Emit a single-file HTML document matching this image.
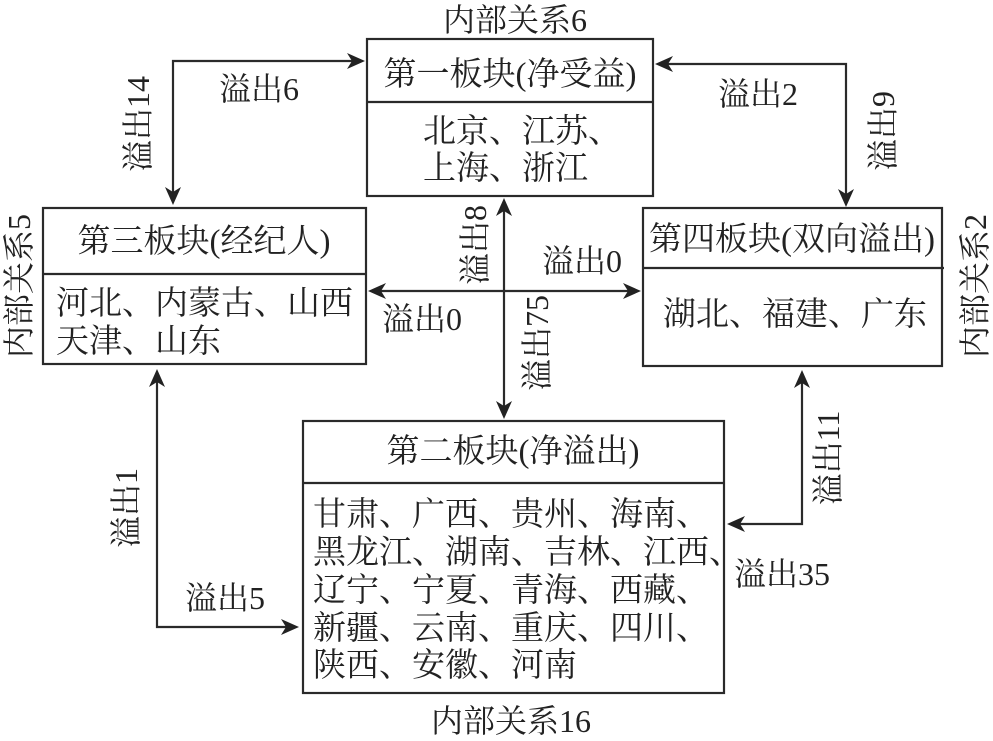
<!DOCTYPE html>
<html>
<head>
<meta charset="utf-8">
<style>
html,body{margin:0;padding:0;background:#fff;}
svg{display:block;}
svg text{font-family:"Liberation Serif","Noto Serif CJK SC","Noto Serif CJK TC",serif;fill:#222;}
.b{font-size:33px;}
.l{font-size:32px;}
</style>
</head>
<body>
<svg width="993" height="741" viewBox="0 0 993 741" xmlns="http://www.w3.org/2000/svg" font-family="'Liberation Serif','Noto Serif CJK SC',serif">
<g fill="none" stroke="#2a2a2a" stroke-width="2.2">
  <rect x="367" y="39" width="286" height="157"/>
  <line x1="367" y1="102" x2="653" y2="102"/>
  <rect x="43" y="208" width="323" height="156"/>
  <line x1="43" y1="274" x2="366" y2="274"/>
  <rect x="643" y="208" width="299" height="158"/>
  <line x1="643" y1="268" x2="944" y2="268"/>
  <rect x="303" y="421" width="421" height="272"/>
  <line x1="303" y1="483" x2="724" y2="483"/>
  <polyline points="355,61 173,61 173,195"/>
  <polyline points="663,64 846,64 846,199"/>
  <line x1="504" y1="206" x2="504" y2="411"/>
  <line x1="376" y1="291" x2="633" y2="291"/>
  <polyline points="157,378 157,627 291,627"/>
  <polyline points="802,379 802,524 735,524"/>
</g>
<g fill="#222" stroke="none">
  <polygon points="365,61 347,53 352,61 347,69"/>
  <polygon points="173,205 165,187 173,192 181,187"/>
  <polygon points="655,64 673,56 668,64 673,72"/>
  <polygon points="846,207 838,189 846,194 854,189"/>
  <polygon points="504,198 496,216 504,211 512,216"/>
  <polygon points="504,419 496,401 504,406 512,401"/>
  <polygon points="368,291 386,283 381,291 386,299"/>
  <polygon points="641,291 623,283 628,291 623,299"/>
  <polygon points="157,369 149,387 157,382 165,387"/>
  <polygon points="299,627 281,619 286,627 281,635"/>
  <polygon points="802,370 794,388 802,383 810,388"/>
  <polygon points="727,524 745,516 740,524 745,532"/>
</g>

<text class="b" x="510" y="85" text-anchor="middle">第一板块(净受益)</text>
<text class="b" x="204" y="252" text-anchor="middle">第三板块(经纪人)</text>
<text class="b" x="792" y="250" text-anchor="middle">第四板块(双向溢出)</text>
<text class="b" x="513" y="462" text-anchor="middle">第二板块(净溢出)</text>

<text class="b" x="423" y="142">北京、江苏、</text>
<text class="b" x="423" y="179">上海、浙江</text>
<text class="b" x="56" y="314">河北、内蒙古、山西</text>
<text class="b" x="56" y="352">天津、山东</text>
<text class="b" x="663" y="325">湖北、福建、广东</text>
<text class="b" x="313" y="525">甘肃、广西、贵州、海南、</text>
<text class="b" x="313" y="563">黑龙江、湖南、吉林、江西、</text>
<text class="b" x="313" y="601">辽宁、宁夏、青海、西藏、</text>
<text class="b" x="313" y="639">新疆、云南、重庆、四川、</text>
<text class="b" x="313" y="676">陕西、安徽、河南</text>

<text class="l" x="515" y="31" text-anchor="middle">内部关系6</text>
<text class="l" x="259" y="100" text-anchor="middle">溢出6</text>
<text class="l" x="758" y="105" text-anchor="middle">溢出2</text>
<text class="l" x="582" y="272" text-anchor="middle">溢出0</text>
<text class="l" x="422" y="330" text-anchor="middle">溢出0</text>
<text class="l" x="225" y="609" text-anchor="middle">溢出5</text>
<text class="l" x="782" y="585" text-anchor="middle">溢出35</text>
<text class="l" x="511" y="732" text-anchor="middle">内部关系16</text>

<text class="l" transform="translate(137,124) rotate(-90)" x="0" y="12" text-anchor="middle">溢出14</text>
<text class="l" transform="translate(882,131) rotate(-90)" x="0" y="12" text-anchor="middle">溢出9</text>
<text class="l" transform="translate(474,245) rotate(-90)" x="0" y="12" text-anchor="middle">溢出8</text>
<text class="l" transform="translate(536,343) rotate(-90)" x="0" y="12" text-anchor="middle">溢出75</text>
<text class="l" transform="translate(125,508) rotate(-90)" x="0" y="12" text-anchor="middle">溢出1</text>
<text class="l" transform="translate(827,458) rotate(-90)" x="0" y="12" text-anchor="middle">溢出11</text>
<text class="l" transform="translate(18,286) rotate(-90)" x="0" y="12" text-anchor="middle">内部关系5</text>
<text class="l" transform="translate(974,286) rotate(-90)" x="0" y="12" text-anchor="middle">内部关系2</text>
</svg>
</body>
</html>
